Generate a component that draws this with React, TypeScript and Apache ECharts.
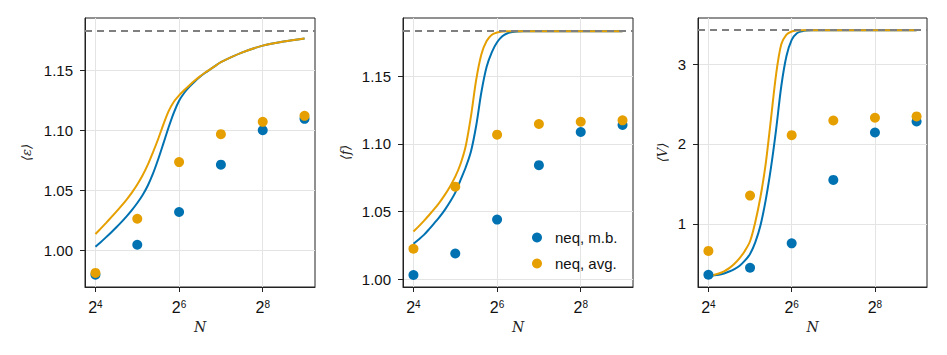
import React, { useEffect, useRef } from "react";
import * as echarts from "echarts";

// x positions of the data points: log2(N) for N = 16 ... 512
const log2N = [4, 5, 6, 7, 8, 9];

// scatter values (neq, m.b. / neq, avg.)
const epsMB = [0.980, 1.005, 1.0322, 1.0716, 1.1003, 1.1098];
const epsAvg = [0.9815, 1.0266, 1.0738, 1.097, 1.1073, 1.1123];
const fMB = [1.003, 1.0189, 1.044, 1.0843, 1.1089, 1.1141];
const fAvg = [1.0224, 1.0684, 1.1069, 1.1148, 1.1165, 1.1175];
const vMB = [0.361, 0.449, 0.755, 1.55, 2.143, 2.282];
const vAvg = [0.66, 1.353, 2.11, 2.294, 2.328, 2.345];

// theory curves sampled at log2(N)
const curveLog2N = [
  4, 4.125, 4.25, 4.375, 4.5, 4.625, 4.75, 4.875, 5, 5.125, 5.25, 5.375, 5.5, 5.625, 5.75, 5.875,
  6, 6.125, 6.25, 6.375, 6.5, 6.625, 6.75, 6.875, 7, 7.5, 8, 8.5, 9,
];
const epsCurveMB = [
  1.0033, 1.0071, 1.0111, 1.0152, 1.0195, 1.024, 1.0288, 1.034, 1.0397, 1.0462, 1.0541, 1.0641, 1.0761, 1.0893, 1.1028, 1.115,
  1.1248, 1.1315, 1.1366, 1.1409, 1.1448, 1.1481, 1.1511, 1.1541, 1.157, 1.1649, 1.1707, 1.1742, 1.1767,
];
const epsCurveAvg = [
  1.0139, 1.0184, 1.023, 1.0277, 1.0325, 1.0375, 1.0428, 1.0486, 1.0551, 1.0626, 1.0714, 1.0819, 1.093, 1.1052, 1.1162, 1.124,
  1.1293, 1.1337, 1.1378, 1.1416, 1.1451, 1.1483, 1.1512, 1.1541, 1.157, 1.1649, 1.1707, 1.1742, 1.1767,
];
const fCurveMB = [
  1.0261, 1.0293, 1.0327, 1.0369, 1.0414, 1.046, 1.0512, 1.0572, 1.064, 1.0733, 1.0828, 1.0945, 1.1135, 1.1385, 1.1572, 1.1681,
  1.1753, 1.1797, 1.182, 1.1829, 1.1833, 1.1835, 1.1835, 1.1835, 1.1835, 1.1835, 1.1835, 1.1835, 1.1835,
];
const fCurveAvg = [
  1.0352, 1.039, 1.0431, 1.0474, 1.0519, 1.0568, 1.0623, 1.0686, 1.0758, 1.0852, 1.0985, 1.1205, 1.1475, 1.1665, 1.1762, 1.1809,
  1.1826, 1.1833, 1.1835, 1.1835, 1.1835, 1.1835, 1.1835, 1.1835, 1.1835, 1.1835, 1.1835, 1.1835, 1.1835,
];
const vCurveMB = [
  0.348, 0.353, 0.361, 0.378, 0.402, 0.433, 0.474, 0.538, 0.622, 0.768, 0.979, 1.294, 1.694, 2.177, 2.723, 3.101,
  3.303, 3.387, 3.412, 3.421, 3.425, 3.425, 3.425, 3.425, 3.425, 3.425, 3.425, 3.425, 3.425,
];
const vCurveAvg = [
  0.348, 0.358, 0.377, 0.405, 0.445, 0.5, 0.571, 0.66, 0.781, 1.02, 1.335, 1.748, 2.303, 2.87, 3.248, 3.371,
  3.409, 3.421, 3.425, 3.425, 3.425, 3.425, 3.425, 3.425, 3.425, 3.425, 3.425, 3.425, 3.425,
];

// asymptotic limits (dashed lines)
const limits = [1.1835, 1.1835, 3.425];

// axes
const yNames = ["⟨ε⟩", "⟨f⟩", "⟨V⟩"];
const yMin = [0.9698, 0.9941, 0.208];
const yMax = [1.1937, 1.1933, 3.578];
const yTicks = [
  [1.0, 1.05, 1.1, 1.15],
  [1.0, 1.05, 1.1, 1.15],
  [1, 2, 3],
];
const yDecimals = [2, 2, 0];
const xTicks = [4, 6, 8];
const xMin = 3.75;
const xMax = 9.25;

const seriesNames = ["neq, m.b.", "neq, avg."];

const BLUE = "#0072B2";
const ORANGE = "#E69F00";
const FONT = "'Liberation Sans', Arial, Helvetica, sans-serif";
const MATH = "'DejaVu Serif', 'Liberation Serif', serif";

export default function App() {
  const ref = useRef<HTMLDivElement>(null);
  useEffect(() => {
    if (!ref.current) return;
    const chart = echarts.init(ref.current, null, { renderer: "svg" });
    const scatterMB = [epsMB, fMB, vMB];
    const scatterAvg = [epsAvg, fAvg, vAvg];
    const curvesMB = [epsCurveMB, fCurveMB, vCurveMB];
    const curvesAvg = [epsCurveAvg, fCurveAvg, vCurveAvg];
    const grids = [
      { left: 85, top: 18, width: 230, height: 269 },
      { left: 403, top: 18, width: 230, height: 269 },
      { left: 698, top: 18, width: 229, height: 269 },
    ];
    const nameGaps = [52, 51, 29];

    const xAxes = grids.map((_, i) => ({
      type: "value",
      gridIndex: i,
      min: xMin,
      max: xMax,
      name: "N",
      nameLocation: "middle",
      nameGap: 33,
      nameTextStyle: { fontFamily: MATH, fontStyle: "italic", fontSize: 14, color: "#222" },
      axisLine: { show: true, onZero: false, lineStyle: { color: "#222", width: 1 } },
      axisTick: { show: true, length: 5, customValues: xTicks, lineStyle: { color: "#222" } },
      axisLabel: {
        customValues: xTicks,
        margin: 12,
        formatter: (v: number) => `{b|2}{s|${Math.round(v)}}`,
        rich: {
          b: { fontSize: 16, fontFamily: FONT, color: "#111", lineHeight: 17 },
          s: { fontSize: 10, fontFamily: FONT, color: "#111", verticalAlign: "top", lineHeight: 9 },
        },
      },
      splitLine: { show: true, lineStyle: { color: "#e4e4e4", width: 1 } },
    }));

    const yAxes = grids.map((_, i) => ({
      type: "value",
      gridIndex: i,
      min: yMin[i],
      max: yMax[i],
      name: yNames[i],
      nameLocation: "middle",
      nameGap: nameGaps[i],
      nameRotate: 90,
      nameTextStyle: { fontFamily: MATH, fontStyle: "italic", fontSize: 13, color: "#222" },
      axisLine: { show: true, onZero: false, lineStyle: { color: "#222", width: 1 } },
      axisTick: { show: true, length: 5, customValues: yTicks[i], lineStyle: { color: "#222" } },
      axisLabel: {
        customValues: yTicks[i],
        margin: 12,
        fontSize: 15,
        fontFamily: FONT,
        color: "#111",
        formatter: (v: number) => v.toFixed(yDecimals[i]),
      },
      splitLine: { show: true, lineStyle: { color: "#e4e4e4", width: 1 } },
    }));

    const series: any[] = [];
    for (let i = 0; i < 3; i++) {
      series.push({
        type: "line",
        name: "theory m.b. " + i,
        xAxisIndex: i,
        yAxisIndex: i,
        data: curveLog2N.map((x, k) => [x, curvesMB[i][k]]),
        showSymbol: false,
        smooth: 0.3,
        lineStyle: { color: BLUE, width: 2 },
        itemStyle: { color: BLUE },
        z: 2,
      });
      series.push({
        type: "line",
        name: "theory avg " + i,
        xAxisIndex: i,
        yAxisIndex: i,
        data: curveLog2N.map((x, k) => [x, curvesAvg[i][k]]),
        showSymbol: false,
        smooth: 0.3,
        lineStyle: { color: ORANGE, width: 2 },
        itemStyle: { color: ORANGE },
        z: 3,
      });
      series.push({
        type: "scatter",
        name: seriesNames[0],
        xAxisIndex: i,
        yAxisIndex: i,
        data: log2N.map((x, k) => [x, scatterMB[i][k]]),
        symbolSize: 10,
        itemStyle: { color: BLUE, opacity: 1 },
        z: 4,
      });
      series.push({
        type: "scatter",
        name: seriesNames[1],
        xAxisIndex: i,
        yAxisIndex: i,
        data: log2N.map((x, k) => [x, scatterAvg[i][k]]),
        symbolSize: 10,
        itemStyle: { color: ORANGE, opacity: 1 },
        z: 5,
      });
      series.push({
        type: "line",
        name: "limit " + i,
        xAxisIndex: i,
        yAxisIndex: i,
        data: [],
        z: 6,
        markLine: {
          silent: true,
          precision: 5,
          symbol: ["none", "none"],
          label: { show: false },
          lineStyle: { color: "#7f7f7f", width: 2, type: [7, 5] },
          data: [{ yAxis: limits[i] }],
          z: 6,
        },
      });
    }

    chart.setOption({
      animation: false,
      backgroundColor: "#ffffff",
      grid: grids.map((g) => ({ ...g, show: true, borderColor: "#222", borderWidth: 1, containLabel: false })),
      xAxis: xAxes,
      yAxis: yAxes,
      legend: {
        show: true,
        data: seriesNames,
        orient: "vertical",
        left: 527,
        top: 225,
        itemWidth: 10,
        itemHeight: 10,
        itemGap: 11,
        icon: "circle",
        textStyle: { fontSize: 15, fontFamily: FONT, color: "#111", padding: [0, 0, 0, 8] },
      },
      series,
    });
    return () => chart.dispose();
  }, []);
  return (
    <div
      ref={ref}
      style={{ position: "absolute", left: 0, top: 0, width: 947, height: 355, background: "#fff" }}
    />
  );
}
